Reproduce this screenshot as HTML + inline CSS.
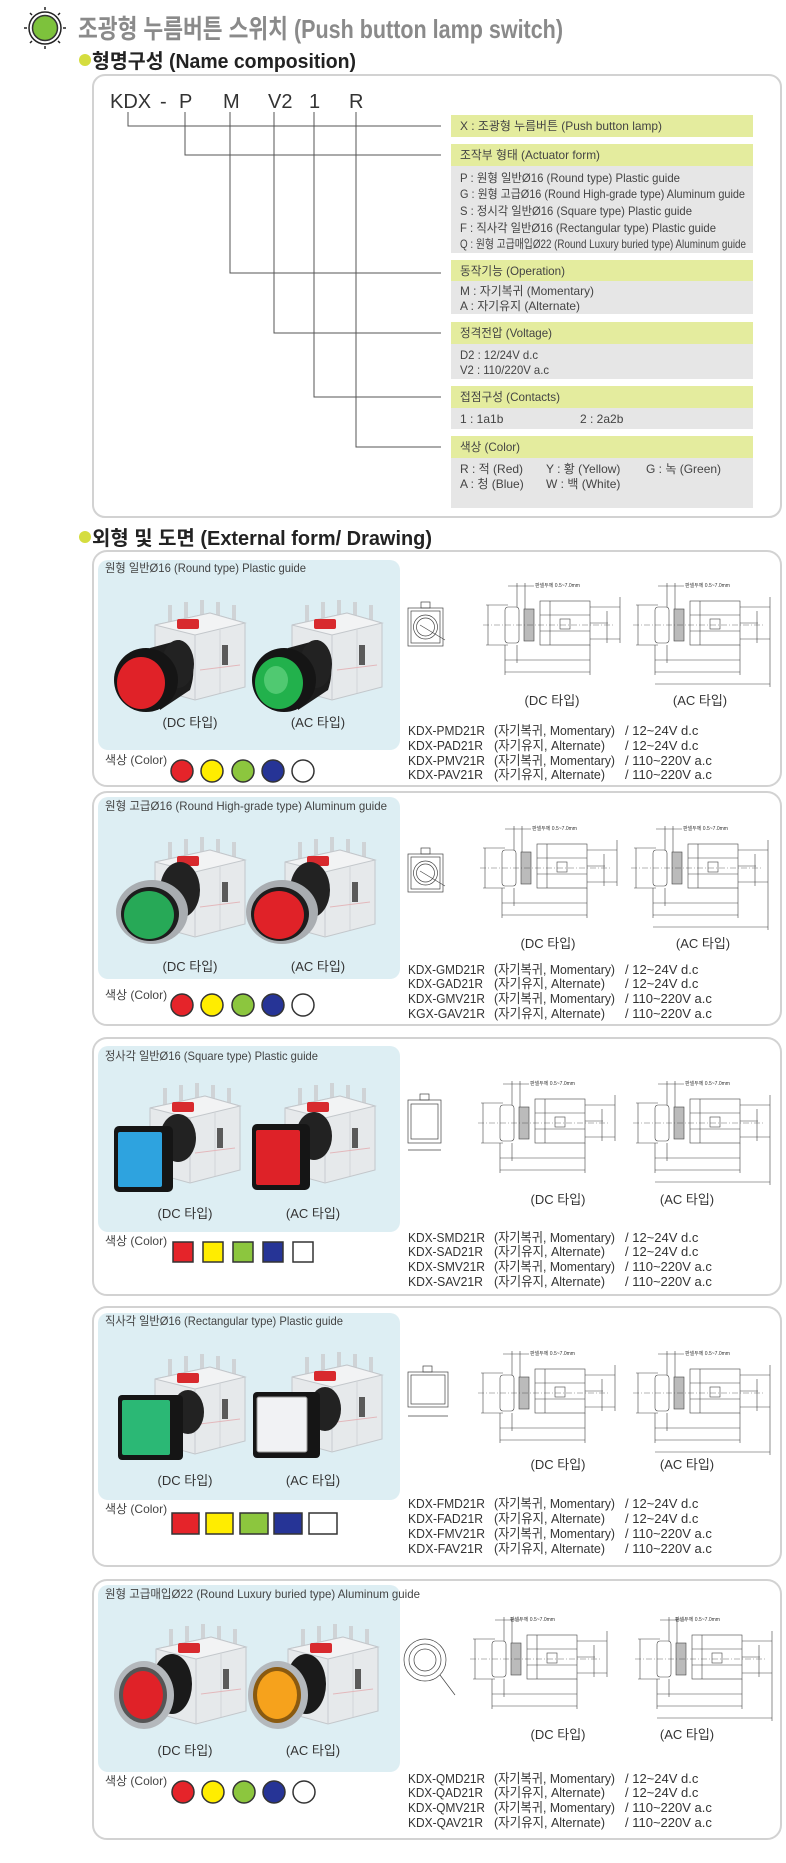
<!DOCTYPE html>
<html><head><meta charset="utf-8"><style>
html,body{margin:0;padding:0;background:#fff;}
svg{display:block;}
text{font-family:"Liberation Sans","Noto Sans CJK KR",sans-serif;}
</style></head><body>
<svg width="786" height="1863" viewBox="0 0 786 1863" xmlns="http://www.w3.org/2000/svg">
<defs>
<g id="mod">
 <rect x="18" y="0" width="4" height="18" fill="#cfd3d6"/><rect x="34" y="-3" width="4" height="18" fill="#cfd3d6"/>
 <rect x="50" y="-5" width="4" height="18" fill="#cfd3d6"/><rect x="66" y="-3" width="4" height="18" fill="#cfd3d6"/><rect x="82" y="0" width="4" height="18" fill="#cfd3d6"/>
 <path d="M5,20 L60,8 L95,18 L95,82 L45,95 L5,84Z" fill="#e6e9eb" stroke="#c3c7cb"/>
 <path d="M5,20 L60,8 L95,18 L45,30Z" fill="#f2f3f4" stroke="#c3c7cb"/>
 <line x1="45" y1="30" x2="45" y2="95" stroke="#c8ccd0"/>
 <line x1="70" y1="24" x2="70" y2="88" stroke="#d2d5d8"/>
 <rect x="27" y="14" width="22" height="10" rx="2" fill="#d82a2e"/>
 <rect x="72" y="40" width="6" height="20" fill="#5a5a5a"/>
 <line x1="12" y1="50" x2="40" y2="55" stroke="#e3b8bc"/><line x1="50" y1="65" x2="90" y2="60" stroke="#e3b8bc"/>
</g>
<g id="drw" fill="none" stroke="#444" stroke-width="0.6">
 <line x1="0" y1="22" x2="0" y2="62"/><line x1="-2" y1="22" x2="20" y2="22"/><line x1="-2" y1="62" x2="20" y2="62"/>
 <rect x="17" y="24" width="14" height="36" rx="3"/>
 <rect x="36" y="26" width="10" height="32" fill="#bbb"/>
 <rect x="52" y="18" width="50" height="44"/>
 <line x1="62" y1="18" x2="62" y2="62"/><line x1="52" y1="32" x2="102" y2="32"/><line x1="52" y1="48" x2="102" y2="48"/>
 <rect x="72" y="36" width="10" height="10"/>
 <line x1="102" y1="24" x2="132" y2="24"/><line x1="102" y1="56" x2="132" y2="56"/><line x1="102" y1="40" x2="120" y2="40"/>
 <line x1="29" y1="0" x2="29" y2="24"/><line x1="37" y1="0" x2="37" y2="26"/><line x1="20" y1="3" x2="46" y2="3"/>
 <line x1="119" y1="28" x2="119" y2="60"/><line x1="132" y1="14" x2="132" y2="60"/>
 <line x1="17" y1="62" x2="17" y2="92"/><line x1="102" y1="62" x2="102" y2="92"/><line x1="29" y1="62" x2="29" y2="80"/>
 <line x1="17" y1="77" x2="102" y2="77"/><line x1="17" y1="89" x2="102" y2="89"/>
 <line x1="-5" y1="42" x2="125" y2="42" stroke-dasharray="6,2,1,2" stroke-width="0.4"/>
</g>
<g id="drwac">
 <use href="#drw"/>
 <line x1="17" y1="101" x2="132" y2="101" stroke="#444" stroke-width="0.6"/>
 <line x1="132" y1="60" x2="132" y2="104" stroke="#444" stroke-width="0.6"/>
</g>
<g id="fvs" fill="none" stroke="#444" stroke-width="0.7">
 <rect x="0" y="6" width="35" height="38"/><rect x="3" y="9" width="29" height="32"/>
 <rect x="13" y="0" width="9" height="6"/>
 <circle cx="17.5" cy="25" r="12"/><circle cx="17.5" cy="25" r="9"/>
</g>
</defs>

<!-- title -->
<g>
 <circle cx="45" cy="28" r="16" fill="none" stroke="#222" stroke-width="1.5"/>
 <circle cx="45" cy="28" r="12.5" fill="#7dc23c" stroke="#333" stroke-width="1.5"/>
 <g stroke="#222" stroke-width="1.5">
  <line x1="45" y1="7" x2="45" y2="10"/><line x1="45" y1="46" x2="45" y2="49"/>
  <line x1="24" y1="28" x2="27" y2="28"/><line x1="63" y1="28" x2="66" y2="28"/>
  <line x1="30" y1="13" x2="32" y2="15"/><line x1="58" y1="41" x2="60" y2="43"/>
  <line x1="60" y1="13" x2="58" y2="15"/><line x1="30" y1="43" x2="32" y2="41"/>
 </g>
</g>
<text x="78" y="38" font-size="26" font-weight="bold" fill="#8a8a8a" textLength="485" lengthAdjust="spacingAndGlyphs">조광형 누름버튼 스위치 (Push button lamp switch)</text>
<circle cx="85" cy="60" r="6" fill="#d5dd3f"/>
<text x="92" y="68" font-size="20" font-weight="bold" fill="#222" textLength="264" lengthAdjust="spacingAndGlyphs">형명구성 (Name composition)</text>

<!-- name box -->
<rect x="93" y="75" width="688" height="442" rx="12" fill="#fff" stroke="#d2d2d2" stroke-width="2"/>
<g font-size="20" fill="#333">
 <text x="110" y="108">KDX</text><text x="160" y="108">-</text><text x="179" y="108">P</text>
 <text x="223" y="108">M</text><text x="268" y="108">V2</text><text x="309" y="108">1</text><text x="349" y="108">R</text>
</g>
<g fill="none" stroke="#555" stroke-width="1">
 <polyline points="128,112 128,126 441,126"/>
 <polyline points="185,112 185,155 441,155"/>
 <polyline points="230,112 230,273 441,273"/>
 <polyline points="274,112 274,333 441,333"/>
 <polyline points="314,112 314,397 441,397"/>
 <polyline points="356,112 356,447 441,447"/>
</g>
<g>
 <rect x="451" y="115" width="302" height="22" fill="#e4ec9e"/>
 <rect x="451" y="144" width="302" height="22" fill="#e4ec9e"/><rect x="451" y="166" width="302" height="87" fill="#e6e6e6"/>
 <rect x="451" y="260" width="302" height="21" fill="#e4ec9e"/><rect x="451" y="281" width="302" height="33" fill="#e6e6e6"/>
 <rect x="451" y="322" width="302" height="22" fill="#e4ec9e"/><rect x="451" y="344" width="302" height="35" fill="#e6e6e6"/>
 <rect x="451" y="386" width="302" height="22" fill="#e4ec9e"/><rect x="451" y="408" width="302" height="21" fill="#e6e6e6"/>
 <rect x="451" y="436" width="302" height="22" fill="#e4ec9e"/><rect x="451" y="458" width="302" height="50" fill="#e6e6e6"/>
</g>
<g font-size="12" fill="#444">
 <text x="460" y="130" textLength="202" lengthAdjust="spacingAndGlyphs">X : 조광형 누름버튼 (Push button lamp)</text>
 <text x="460" y="159" textLength="140" lengthAdjust="spacingAndGlyphs">조작부 형태 (Actuator form)</text>
 <text x="460" y="182" textLength="220" lengthAdjust="spacingAndGlyphs">P : 원형 일반Ø16 (Round type) Plastic guide</text>
 <text x="460" y="198" textLength="285" lengthAdjust="spacingAndGlyphs">G : 원형 고급Ø16 (Round High-grade type) Aluminum guide</text>
 <text x="460" y="215" textLength="232" lengthAdjust="spacingAndGlyphs">S : 정시각 일반Ø16 (Square type) Plastic guide</text>
 <text x="460" y="232" textLength="256" lengthAdjust="spacingAndGlyphs">F : 직사각 일반Ø16 (Rectangular type) Plastic guide</text>
 <text x="460" y="248" textLength="286" lengthAdjust="spacingAndGlyphs">Q : 원형 고급매입Ø22 (Round Luxury buried type) Aluminum guide</text>
 <text x="460" y="275" textLength="105" lengthAdjust="spacingAndGlyphs">동작기능 (Operation)</text>
 <text x="460" y="295" textLength="134" lengthAdjust="spacingAndGlyphs">M : 자기복귀 (Momentary)</text>
 <text x="460" y="310" textLength="120" lengthAdjust="spacingAndGlyphs">A : 자기유지 (Alternate)</text>
 <text x="460" y="337" textLength="92" lengthAdjust="spacingAndGlyphs">정격전압 (Voltage)</text>
 <text x="460" y="359" textLength="78" lengthAdjust="spacingAndGlyphs">D2 : 12/24V d.c</text>
 <text x="460" y="374" textLength="89" lengthAdjust="spacingAndGlyphs">V2 : 110/220V a.c</text>
 <text x="460" y="401" textLength="100" lengthAdjust="spacingAndGlyphs">접점구성 (Contacts)</text>
 <text x="460" y="423">1 : 1a1b</text><text x="580" y="423">2 : 2a2b</text>
 <text x="460" y="451" textLength="60" lengthAdjust="spacingAndGlyphs">색상 (Color)</text>
 <text x="460" y="473">R : 적 (Red)</text><text x="546" y="473">Y : 황 (Yellow)</text><text x="646" y="473">G : 녹 (Green)</text>
 <text x="460" y="488">A : 청 (Blue)</text><text x="546" y="488">W : 백 (White)</text>
</g>

<circle cx="85" cy="537" r="6" fill="#d5dd3f"/>
<text x="92" y="545" font-size="20" font-weight="bold" fill="#222" textLength="340" lengthAdjust="spacingAndGlyphs">외형 및 도면 (External form/ Drawing)</text>

<!-- product boxes -->
<g fill="#fff" stroke="#d2d2d2" stroke-width="2">
 <rect x="93" y="551" width="688" height="235" rx="14"/>
 <rect x="93" y="792" width="688" height="233" rx="14"/>
 <rect x="93" y="1038" width="688" height="257" rx="14"/>
 <rect x="93" y="1307" width="688" height="259" rx="14"/>
 <rect x="93" y="1580" width="688" height="259" rx="14"/>
</g>
<g fill="#ddeef3">
 <rect x="98" y="560" width="302" height="190" rx="10"/>
 <rect x="98" y="797" width="302" height="182" rx="10"/>
 <rect x="98" y="1046" width="302" height="186" rx="10"/>
 <rect x="98" y="1313" width="302" height="187" rx="10"/>
 <rect x="98" y="1585" width="302" height="187" rx="10"/>
</g>
<g font-size="12" fill="#444">
 <text x="105" y="572" textLength="201" lengthAdjust="spacingAndGlyphs">원형 일반Ø16 (Round type) Plastic guide</text>
 <text x="105" y="810" textLength="282" lengthAdjust="spacingAndGlyphs">원형 고급Ø16 (Round High-grade type) Aluminum guide</text>
 <text x="105" y="1060" textLength="213" lengthAdjust="spacingAndGlyphs">정사각 일반Ø16 (Square type) Plastic guide</text>
 <text x="105" y="1325" textLength="238" lengthAdjust="spacingAndGlyphs">직사각 일반Ø16 (Rectangular type) Plastic guide</text>
 <text x="105" y="1598" textLength="315" lengthAdjust="spacingAndGlyphs">원형 고급매입Ø22 (Round Luxury buried type) Aluminum guide</text>
</g>

<!-- box1 buttons -->
<use href="#mod" x="150" y="605"/><use href="#mod" x="287" y="605"/>
<path d="M150,648 L180,640 Q200,660 190,690 L160,710 Z" fill="#1d1d1d"/>
<ellipse cx="178" cy="664" rx="16" ry="24" fill="#222"/>
<ellipse cx="146" cy="680" rx="32" ry="32" fill="#151515"/>
<ellipse cx="141" cy="683" rx="24" ry="26" fill="#e02228"/>
<path d="M288,648 L318,640 Q338,660 328,690 L298,710 Z" fill="#1d1d1d"/>
<ellipse cx="316" cy="664" rx="16" ry="24" fill="#222"/>
<ellipse cx="284" cy="680" rx="32" ry="32" fill="#151515"/>
<ellipse cx="279" cy="683" rx="24" ry="26" fill="#22b14c"/>
<ellipse cx="276" cy="680" rx="12" ry="14" fill="#6fd98a" opacity="0.6"/>

<!-- box2 buttons -->
<use href="#mod" x="150" y="842"/><use href="#mod" x="280" y="842"/>
<ellipse cx="180" cy="890" rx="20" ry="28" fill="#222"/>
<ellipse cx="152" cy="912" rx="36" ry="32" fill="#a9adb1"/>
<ellipse cx="150" cy="914" rx="29" ry="27" fill="#1d1d1d"/>
<ellipse cx="149" cy="915" rx="25" ry="24" fill="#27a957"/>
<ellipse cx="310" cy="890" rx="20" ry="28" fill="#222"/>
<ellipse cx="282" cy="912" rx="36" ry="32" fill="#a9adb1"/>
<ellipse cx="280" cy="914" rx="29" ry="27" fill="#1d1d1d"/>
<ellipse cx="279" cy="915" rx="25" ry="24" fill="#e02228"/>

<!-- box3 buttons -->
<use href="#mod" x="145" y="1088"/><use href="#mod" x="280" y="1088"/>
<ellipse cx="178" cy="1138" rx="18" ry="24" fill="#222"/>
<rect x="114" y="1126" width="59" height="66" rx="5" fill="#151515"/>
<rect x="118" y="1132" width="44" height="55" rx="2" fill="#2ea3df"/>
<ellipse cx="314" cy="1136" rx="18" ry="24" fill="#222"/>
<rect x="252" y="1124" width="58" height="66" rx="5" fill="#151515"/>
<rect x="256" y="1130" width="44" height="55" rx="2" fill="#de2228"/>

<!-- box4 buttons -->
<use href="#mod" x="150" y="1359"/><use href="#mod" x="287" y="1357"/>
<ellipse cx="188" cy="1412" rx="16" ry="22" fill="#222"/>
<rect x="118" y="1395" width="65" height="65" rx="4" fill="#151515"/>
<rect x="122" y="1400" width="48" height="55" rx="2" fill="#2bb875"/>
<ellipse cx="325" cy="1409" rx="16" ry="22" fill="#222"/>
<rect x="253" y="1392" width="67" height="66" rx="4" fill="#151515"/>
<rect x="257" y="1397" width="50" height="55" rx="2" fill="#f1f2f4" stroke="#999" stroke-width="1"/>

<!-- box5 buttons -->
<use href="#mod" x="151" y="1629"/><use href="#mod" x="283" y="1629"/>
<ellipse cx="172" cy="1684" rx="20" ry="30" fill="#1a1a1a"/>
<ellipse cx="144" cy="1695" rx="30" ry="34" fill="#b4b8bc"/>
<ellipse cx="143" cy="1695" rx="24" ry="28" fill="#555"/>
<ellipse cx="143" cy="1695" rx="20" ry="24" fill="#e02228"/>
<ellipse cx="306" cy="1684" rx="20" ry="30" fill="#1a1a1a"/>
<ellipse cx="278" cy="1695" rx="30" ry="34" fill="#b4b8bc"/>
<ellipse cx="277" cy="1695" rx="24" ry="28" fill="#8a5a10"/>
<ellipse cx="277" cy="1695" rx="20" ry="24" fill="#f6a21c"/>

<!-- DC/AC photo labels -->
<g font-size="13" fill="#333" text-anchor="middle">
 <text x="190" y="727">(DC 타입)</text><text x="318" y="727">(AC 타입)</text>
 <text x="190" y="971">(DC 타입)</text><text x="318" y="971">(AC 타입)</text>
 <text x="185" y="1218">(DC 타입)</text><text x="313" y="1218">(AC 타입)</text>
 <text x="185" y="1485">(DC 타입)</text><text x="313" y="1485">(AC 타입)</text>
 <text x="185" y="1755">(DC 타입)</text><text x="313" y="1755">(AC 타입)</text>
</g>

<!-- color labels -->
<g font-size="12" fill="#444">
 <text x="105" y="764">색상 (Color)</text><text x="105" y="999">색상 (Color)</text>
 <text x="105" y="1245">색상 (Color)</text><text x="105" y="1513">색상 (Color)</text>
 <text x="105" y="1785">색상 (Color)</text>
</g>
<g stroke="#333" stroke-width="1.5">
 <circle cx="182" cy="771" r="11" fill="#e5242a"/><circle cx="212" cy="771" r="11" fill="#ffed00"/><circle cx="243" cy="771" r="11" fill="#8cc63e"/><circle cx="273" cy="771" r="11" fill="#263496"/><circle cx="303" cy="771" r="11" fill="#fff"/>
 <circle cx="182" cy="1005" r="11" fill="#e5242a"/><circle cx="212" cy="1005" r="11" fill="#ffed00"/><circle cx="243" cy="1005" r="11" fill="#8cc63e"/><circle cx="273" cy="1005" r="11" fill="#263496"/><circle cx="303" cy="1005" r="11" fill="#fff"/>
 <rect x="173" y="1242" width="20" height="20" fill="#e5242a"/><rect x="203" y="1242" width="20" height="20" fill="#ffed00"/><rect x="233" y="1242" width="20" height="20" fill="#8cc63e"/><rect x="263" y="1242" width="20" height="20" fill="#263496"/><rect x="293" y="1242" width="20" height="20" fill="#fff"/>
 <rect x="172" y="1513" width="27" height="21" fill="#e5242a"/><rect x="206" y="1513" width="27" height="21" fill="#ffed00"/><rect x="240" y="1513" width="28" height="21" fill="#8cc63e"/><rect x="274" y="1513" width="28" height="21" fill="#263496"/><rect x="309" y="1513" width="28" height="21" fill="#fff"/>
 <circle cx="183" cy="1792" r="11" fill="#e5242a"/><circle cx="213" cy="1792" r="11" fill="#ffed00"/><circle cx="244" cy="1792" r="11" fill="#8cc63e"/><circle cx="274" cy="1792" r="11" fill="#263496"/><circle cx="304" cy="1792" r="11" fill="#fff"/>
</g>

<!-- drawings -->
<use href="#fvs" x="408" y="602"/>
<line x1="420" y1="625" x2="445" y2="640" stroke="#444" stroke-width="0.6"/>
<use href="#drw" x="488" y="583"/><use href="#drwac" x="638" y="583"/>
<use href="#fvs" x="408" y="848"/>
<line x1="420" y1="871" x2="445" y2="886" stroke="#444" stroke-width="0.6"/>
<use href="#drw" x="485" y="826"/><use href="#drwac" x="636" y="826"/>
<g fill="none" stroke="#444" stroke-width="0.7">
 <rect x="408" y="1100" width="33" height="43"/><rect x="411" y="1104" width="27" height="35"/><rect x="420" y="1094" width="9" height="6"/>
 <line x1="408" y1="1150" x2="441" y2="1150"/>
 <rect x="408" y="1372" width="40" height="35"/><rect x="411" y="1375" width="34" height="29"/><rect x="423" y="1366" width="9" height="6"/>
 <line x1="408" y1="1416" x2="448" y2="1416"/>
 <circle cx="425" cy="1660" r="21"/><circle cx="425" cy="1660" r="16"/><circle cx="425" cy="1660" r="11"/>
 <line x1="440" y1="1675" x2="455" y2="1695"/>
</g>
<use href="#drw" x="483" y="1081"/><use href="#drwac" x="638" y="1081"/>
<use href="#drw" x="483" y="1351"/><use href="#drwac" x="638" y="1351"/>
<use href="#drw" x="475" y="1617"/><use href="#drwac" x="640" y="1617"/>
<g font-size="5" fill="#333">
 <text x="535" y="587">판넬두께 0.5~7.0mm</text><text x="685" y="587">판넬두께 0.5~7.0mm</text>
 <text x="532" y="830">판넬두께 0.5~7.0mm</text><text x="683" y="830">판넬두께 0.5~7.0mm</text>
 <text x="530" y="1085">판넬두께 0.5~7.0mm</text><text x="685" y="1085">판넬두께 0.5~7.0mm</text>
 <text x="530" y="1355">판넬두께 0.5~7.0mm</text><text x="685" y="1355">판넬두께 0.5~7.0mm</text>
 <text x="510" y="1621">판넬두께 0.5~7.0mm</text><text x="675" y="1621">판넬두께 0.5~7.0mm</text>
</g>
<g font-size="13" fill="#333" text-anchor="middle">
 <text x="552" y="705">(DC 타입)</text><text x="700" y="705">(AC 타입)</text>
 <text x="548" y="948">(DC 타입)</text><text x="703" y="948">(AC 타입)</text>
 <text x="558" y="1204">(DC 타입)</text><text x="687" y="1204">(AC 타입)</text>
 <text x="558" y="1469">(DC 타입)</text><text x="687" y="1469">(AC 타입)</text>
 <text x="558" y="1739">(DC 타입)</text><text x="687" y="1739">(AC 타입)</text>
</g>

<!-- model lists -->
<g font-size="13" fill="#333">
 <text x="408" y="735" textLength="77" lengthAdjust="spacingAndGlyphs">KDX-PMD21R</text><text x="494" y="735" textLength="121" lengthAdjust="spacingAndGlyphs">(자기복귀, Momentary)</text><text x="625" y="735">/ 12~24V d.c</text>
 <text x="408" y="750" textLength="75" lengthAdjust="spacingAndGlyphs">KDX-PAD21R</text><text x="494" y="750" textLength="111" lengthAdjust="spacingAndGlyphs">(자기유지, Alternate)</text><text x="625" y="750">/ 12~24V d.c</text>
 <text x="408" y="765" textLength="77" lengthAdjust="spacingAndGlyphs">KDX-PMV21R</text><text x="494" y="765" textLength="121" lengthAdjust="spacingAndGlyphs">(자기복귀, Momentary)</text><text x="625" y="765">/ 110~220V a.c</text>
 <text x="408" y="779" textLength="75" lengthAdjust="spacingAndGlyphs">KDX-PAV21R</text><text x="494" y="779" textLength="111" lengthAdjust="spacingAndGlyphs">(자기유지, Alternate)</text><text x="625" y="779">/ 110~220V a.c</text>

 <text x="408" y="974" textLength="77" lengthAdjust="spacingAndGlyphs">KDX-GMD21R</text><text x="494" y="974" textLength="121" lengthAdjust="spacingAndGlyphs">(자기복귀, Momentary)</text><text x="625" y="974">/ 12~24V d.c</text>
 <text x="408" y="988" textLength="75" lengthAdjust="spacingAndGlyphs">KDX-GAD21R</text><text x="494" y="988" textLength="111" lengthAdjust="spacingAndGlyphs">(자기유지, Alternate)</text><text x="625" y="988">/ 12~24V d.c</text>
 <text x="408" y="1003" textLength="77" lengthAdjust="spacingAndGlyphs">KDX-GMV21R</text><text x="494" y="1003" textLength="121" lengthAdjust="spacingAndGlyphs">(자기복귀, Momentary)</text><text x="625" y="1003">/ 110~220V a.c</text>
 <text x="408" y="1018" textLength="77" lengthAdjust="spacingAndGlyphs">KGX-GAV21R</text><text x="494" y="1018" textLength="111" lengthAdjust="spacingAndGlyphs">(자기유지, Alternate)</text><text x="625" y="1018">/ 110~220V a.c</text>

 <text x="408" y="1242" textLength="77" lengthAdjust="spacingAndGlyphs">KDX-SMD21R</text><text x="494" y="1242" textLength="121" lengthAdjust="spacingAndGlyphs">(자기복귀, Momentary)</text><text x="625" y="1242">/ 12~24V d.c</text>
 <text x="408" y="1256" textLength="75" lengthAdjust="spacingAndGlyphs">KDX-SAD21R</text><text x="494" y="1256" textLength="111" lengthAdjust="spacingAndGlyphs">(자기유지, Alternate)</text><text x="625" y="1256">/ 12~24V d.c</text>
 <text x="408" y="1271" textLength="77" lengthAdjust="spacingAndGlyphs">KDX-SMV21R</text><text x="494" y="1271" textLength="121" lengthAdjust="spacingAndGlyphs">(자기복귀, Momentary)</text><text x="625" y="1271">/ 110~220V a.c</text>
 <text x="408" y="1286" textLength="75" lengthAdjust="spacingAndGlyphs">KDX-SAV21R</text><text x="494" y="1286" textLength="111" lengthAdjust="spacingAndGlyphs">(자기유지, Alternate)</text><text x="625" y="1286">/ 110~220V a.c</text>

 <text x="408" y="1508" textLength="77" lengthAdjust="spacingAndGlyphs">KDX-FMD21R</text><text x="494" y="1508" textLength="121" lengthAdjust="spacingAndGlyphs">(자기복귀, Momentary)</text><text x="625" y="1508">/ 12~24V d.c</text>
 <text x="408" y="1523" textLength="75" lengthAdjust="spacingAndGlyphs">KDX-FAD21R</text><text x="494" y="1523" textLength="111" lengthAdjust="spacingAndGlyphs">(자기유지, Alternate)</text><text x="625" y="1523">/ 12~24V d.c</text>
 <text x="408" y="1538" textLength="77" lengthAdjust="spacingAndGlyphs">KDX-FMV21R</text><text x="494" y="1538" textLength="121" lengthAdjust="spacingAndGlyphs">(자기복귀, Momentary)</text><text x="625" y="1538">/ 110~220V a.c</text>
 <text x="408" y="1553" textLength="75" lengthAdjust="spacingAndGlyphs">KDX-FAV21R</text><text x="494" y="1553" textLength="111" lengthAdjust="spacingAndGlyphs">(자기유지, Alternate)</text><text x="625" y="1553">/ 110~220V a.c</text>

 <text x="408" y="1783" textLength="77" lengthAdjust="spacingAndGlyphs">KDX-QMD21R</text><text x="494" y="1783" textLength="121" lengthAdjust="spacingAndGlyphs">(자기복귀, Momentary)</text><text x="625" y="1783">/ 12~24V d.c</text>
 <text x="408" y="1797" textLength="75" lengthAdjust="spacingAndGlyphs">KDX-QAD21R</text><text x="494" y="1797" textLength="111" lengthAdjust="spacingAndGlyphs">(자기유지, Alternate)</text><text x="625" y="1797">/ 12~24V d.c</text>
 <text x="408" y="1812" textLength="77" lengthAdjust="spacingAndGlyphs">KDX-QMV21R</text><text x="494" y="1812" textLength="121" lengthAdjust="spacingAndGlyphs">(자기복귀, Momentary)</text><text x="625" y="1812">/ 110~220V a.c</text>
 <text x="408" y="1827" textLength="75" lengthAdjust="spacingAndGlyphs">KDX-QAV21R</text><text x="494" y="1827" textLength="111" lengthAdjust="spacingAndGlyphs">(자기유지, Alternate)</text><text x="625" y="1827">/ 110~220V a.c</text>
</g>
</svg>
</body></html>
